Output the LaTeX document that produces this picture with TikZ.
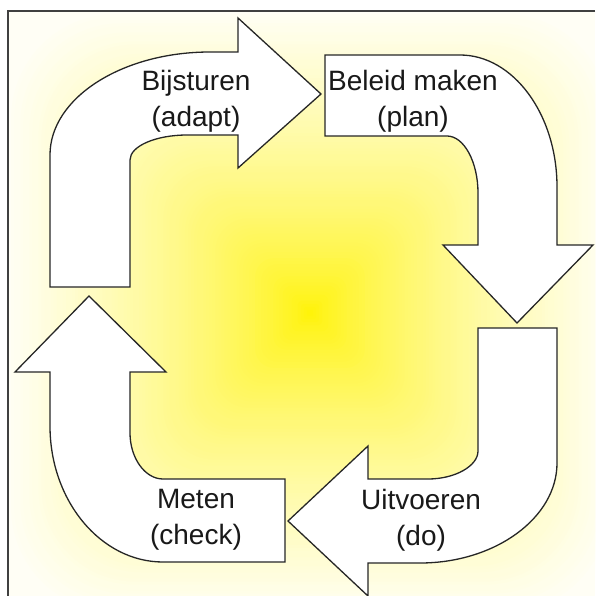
\documentclass[tikz,border=0pt]{standalone}
\usepackage{fontspec}
\setmainfont{Liberation Sans}
\begin{document}
\begin{tikzpicture}[x=1pt,y=-1pt,
  cyclearrow/.style={fill=white,draw=black!85,line width=1.3pt,line join=miter},
  steplabel/.style={align=center,font=\fontsize{28}{36}\selectfont,text=black!90,inner sep=0pt},
  frameline/.style={draw=black!75,line width=2pt}]
\useasboundingbox (0,0) rectangle (595,596);
\fill[white] (0,0) rectangle (595,596);

% softened square gradient: bright yellow in the middle fading to cream
\begin{scope}
  \clip (8,11) rectangle (595,596);
  \fill[yellow!4!white] (8,11) rectangle (595,596);
  \foreach \i in {100,99,...,1}{
    \pgfmathsetmacro\hs{3.05*\i}
    \pgfmathsetmacro\rc{0.35*\hs}
    \pgfmathtruncatemacro\p{100-96*(\i/100)^0.72}
    \fill[yellow!\p!white,rounded corners=\rc pt] (310-\hs,313-\hs) rectangle (310+\hs,313+\hs);
  }
\end{scope}

% top-left arrow (adapt)
\path[cyclearrow] (50,287) -- (50,155)
  .. controls (50,98) and (122,52) .. (210,52) -- (238,52) -- (238,18)
  -- (321,94) -- (238,168) -- (238,135) -- (187,135)
  .. controls (156,135) and (130,146) .. (130,160) -- (130,287) -- cycle;

% top-right arrow (plan)
\path[cyclearrow] (325,55) -- (460,55)
  .. controls (513,55) and (557,114) .. (557,187) -- (557,245) -- (593,245)
  -- (517,323) -- (443,245) -- (478,245) -- (478,193)
  .. controls (478,162) and (464,136) .. (447,136) -- (325,136) -- cycle;

% bottom-right arrow (do)
\path[cyclearrow] (478,328) -- (557,328) -- (557,463)
  .. controls (557,518) and (495,563) .. (420,563) -- (368,563) -- (368,596)
  -- (288,521) -- (368,446) -- (368,479) -- (428,479)
  .. controls (455,479) and (478,466) .. (478,451) -- cycle;

% bottom-left arrow (check)
\path[cyclearrow] (285,479) -- (285,562) -- (163,562)
  .. controls (101,562) and (50,501) .. (50,426) -- (50,372) -- (15,372)
  -- (89,296) -- (166,372) -- (130,372) -- (130,433)
  .. controls (130,458) and (145,479) .. (163,479) -- cycle;

% labels
\node[steplabel] (adapt) at (196,101) {Bijsturen\\(adapt)};
\node[steplabel] (plan)  at (413,101) {Beleid maken\\(plan)};
\node[steplabel] (do)    at (421,520) {Uitvoeren\\(do)};
\node[steplabel] (check) at (196,520) {Meten\\(check)};

% frame
\draw[frameline] (595,11) -- (8,11) -- (8,596);
\end{tikzpicture}
\end{document}
